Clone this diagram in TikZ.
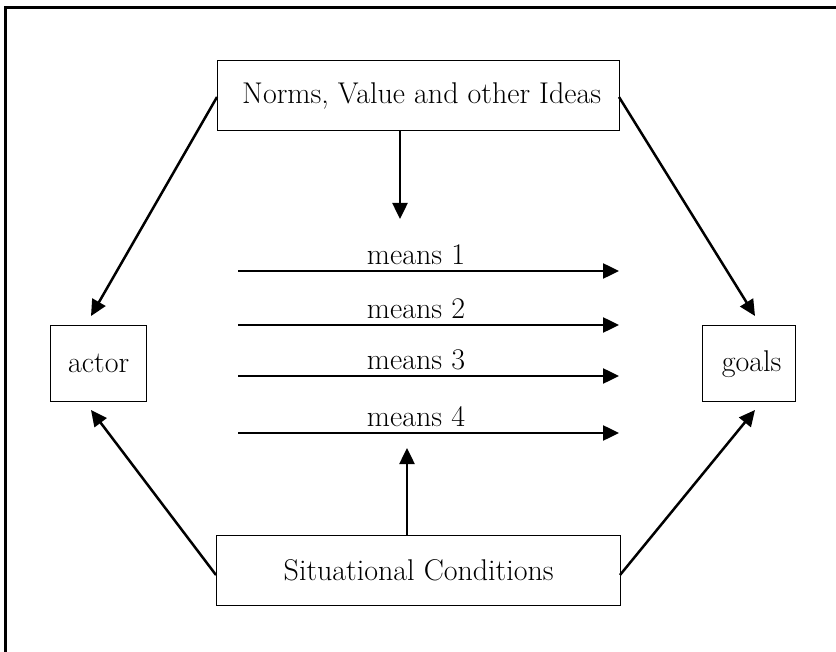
\documentclass[tikz,border=0pt]{standalone}
\usetikzlibrary{arrows.meta}
\begin{document}
\begin{tikzpicture}[x=1pt,y=-1pt,
  box/.style={draw, line width=1.4pt, inner sep=0pt, anchor=north west, font=\fontsize{30}{36}\selectfont},
  lbl/.style={font=\fontsize{30}{36}\selectfont, inner sep=0pt, anchor=base},
  arr/.style={line width=2.5pt, -{Triangle[length=16pt,width=15pt]}},
  frame/.style={line width=3pt}]
\useasboundingbox (0,0) rectangle (836,652);
% frame (left and top only)
\coordinate (f1) at (5,652);
\coordinate (f2) at (5,8);
\coordinate (f3) at (836,8);
\draw[frame] (f1) -- (f2) -- (f3);
% boxes
\node[box, minimum width=402pt, minimum height=70pt] (norms) at (217,60) {\hspace*{6pt}Norms, Value and other Ideas};
\node[box, minimum width=404pt, minimum height=70pt] (sit) at (216,535) {Situational Conditions};
\node[box, minimum width=96pt, minimum height=76pt] (actor) at (50,325) {actor};
\node[box, minimum width=93pt, minimum height=76pt] (goals) at (702,325) {\hspace*{5pt}goals};
% free arrow ends
\coordinate (nTip) at (400,219);
\coordinate (sTip) at (407,448);
\coordinate (aTop) at (91,316);
\coordinate (aBot) at (91,410);
\coordinate (gTop) at (755,316);
\coordinate (gBot) at (755,410);
\coordinate (nL) at (217,97);
\coordinate (nR) at (619,97);
\coordinate (sL) at (216,575);
\coordinate (sR) at (620,575);
% influence arrows
\draw[arr] (norms.south -| nTip) -- (nTip);
\draw[arr] (sit.north -| sTip) -- (sTip);
\draw[arr] (nL) -- (aTop);
\draw[arr] (nR) -- (gTop);
\draw[arr] (sL) -- (aBot);
\draw[arr] (sR) -- (gBot);
% means arrows
\foreach \i/\y in {1/271,2/325,3/376,4/433}{
  \coordinate (m\i s) at (238,\y);
  \coordinate (m\i e) at (619,\y);
  \draw[arr] (m\i s) -- (m\i e);
  \node[lbl] (m\i l) at (416,\y-6) {means \i};
}
\end{tikzpicture}
\end{document}
